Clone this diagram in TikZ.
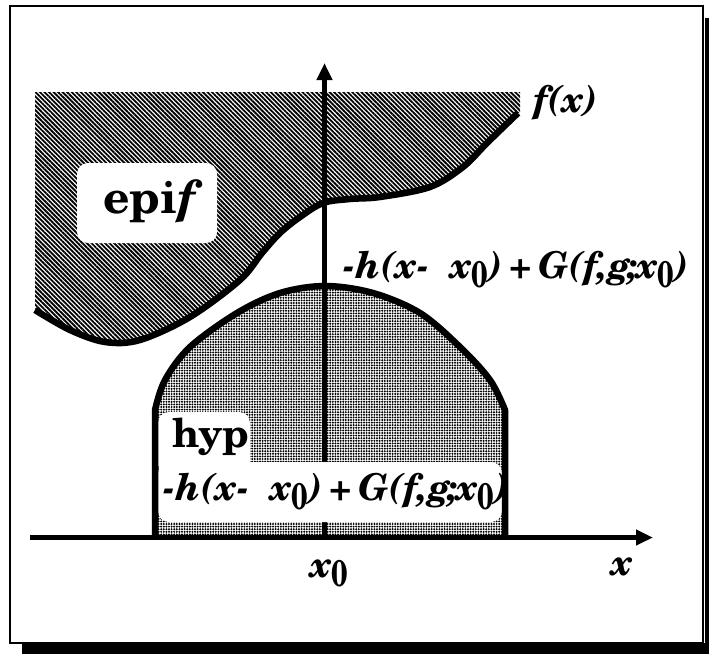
\documentclass[tikz,border=0pt]{standalone}
\usepackage{graphicx}
\usepackage{fontspec}
\setmainfont{texgyreschola}[Extension=.otf, UprightFont=*-regular, BoldFont=*-bold, ItalicFont=*-italic, BoldItalicFont=*-bolditalic]
\usetikzlibrary{arrows.meta,patterns.meta}
\newcommand\zsub[1]{\raisebox{-0.26em}{\scalebox{0.78}[1.0]{\upshape\bfseries #1}}}
\tikzset{
  frameline/.style={line width=1.8pt},
  thickcurve/.style={line width=6.5pt, line join=round},
  axisline/.style={line width=5.5pt, -{Triangle[length=17pt,width=15pt]}},
  whitebox/.style={fill=white, draw=none, rounded corners=11pt},
  lbl/.style={inner sep=0pt, font=\bfseries\itshape},
}
\begin{document}
\begin{tikzpicture}[x=1pt,y=-1pt]
\useasboundingbox (0,0) rectangle (709,654);
\fill[white] (0,0) rectangle (709,654);
% shadow and frame
\fill[black] (22,643) rectangle (709,654);
\fill[black] (705,18) rectangle (709,654);
\draw[frameline] (10,6) rectangle (703,643);
% epigraph region
\fill[pattern={Lines[angle=-45,distance=3.2pt,line width=1.85pt]}]
  (35,92) -- (520,92) -- (520,113) --
  plot[smooth,tension=0.55] coordinates {(518,113) (487,143) (463,167) (430,187) (380,197) (350,199) (323,203) (300,217) (280,233) (262,253) (240,280) (190,317) (140,340) (105,342) (70,330) (35,310)}
  -- cycle;
% hypograph region
\fill[pattern={Dots[distance=2.6pt,radius=1.1pt]}]
  (155,537.5) -- (155,410) --
  plot[smooth,tension=0.55] coordinates {(155,410) (165,380) (190,347) (237,313) (280,293) (325,286) (373,293) (420,313) (460,347) (490,380) (505,410)}
  -- (505,537.5) -- cycle;
% f curve
\draw[thickcurve] plot[smooth,tension=0.55] coordinates {(518,113) (487,143) (463,167) (430,187) (380,197) (350,199) (323,203) (300,217) (280,233) (262,253) (240,280) (190,317) (140,340) (105,342) (70,330) (35,310)};
% axes
\coordinate (O) at (324.5,537.5);
\coordinate (ytip) at (324.5,63);
\coordinate (xstart) at (30,537.5);
\coordinate (xtip) at (653,537.5);
\draw[axisline] (O) -- (ytip);
\draw[axisline] (xstart) -- (xtip);
% white label boxes
\fill[whitebox] (77,163) rectangle (217,243);
\fill[whitebox] (158,412) rectangle (250,475);
\fill[whitebox] (158,462) rectangle (502,522);
% hypograph boundary
\draw[thickcurve] (155,537.5) -- (155,410) --
  plot[smooth,tension=0.55] coordinates {(155,410) (165,380) (190,347) (237,313) (280,293) (325,286) (373,293) (420,313) (460,347) (490,380) (505,410)}
  -- (505,537.5);
% labels
\node[lbl, anchor=base west, font=\fontsize{46}{50}\selectfont\bfseries] (epi) at (103,213) {epi\textit{f}};
\node[lbl, anchor=base west, font=\fontsize{40}{44}\selectfont\bfseries] (hyp) at (172,447) {hyp};
\node[lbl, anchor=base west, font=\fontsize{37}{40}\selectfont\bfseries\itshape] (fx) at (533,112) {f(x)};
\node[lbl, anchor=base west, font=\fontsize{37}{40}\selectfont\bfseries\itshape] (upper) at (343,278) {-h(x-\ \ x\zsub{0}){\upshape\,+\,}G(f,g\kern-0.1em;\kern-0.05em x\zsub{0})};
\node[lbl, anchor=base west, font=\fontsize{37}{40}\selectfont\bfseries\itshape] (lower) at (163,500) {-h(x-\ \ x\zsub{0}){\upshape\,+\,}G(f,g\kern-0.1em;\kern-0.05em x\zsub{0})};
\node[lbl, anchor=base west, font=\fontsize{37}{40}\selectfont\bfseries\itshape] (x0) at (310,577) {x\zsub{0}};
\node[lbl, anchor=base, font=\fontsize{37}{40}\selectfont\bfseries\itshape] (xl) at (622,575) {x};
\end{tikzpicture}
\end{document}
